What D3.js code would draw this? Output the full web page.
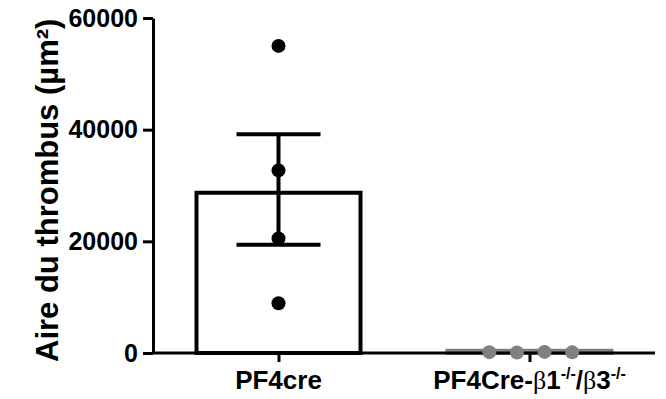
<!DOCTYPE html>
<html>
<head>
<meta charset="utf-8">
<script src="https://cdn.jsdelivr.net/npm/d3@7"></script>
<style>
  html, body { margin: 0; padding: 0; background: #fff; }
  svg { display: block; }
</style>
</head>
<body>
<script>
// groups, bar heights and error limits
const groups = ["PF4cre", "PF4Cre-b"];
const barMeans = [28700, 400];
const errLow = [19400, 400];
const errHigh = [39200, 400];
const groupColors = ["#000000", "#808080"];

// individual points per group
const pointsWT = [55000, 32700, 20500, 8900];
const pointsKO = [150, 100, 200, 120];
const koOffsets = [-0.16, -0.05, 0.06, 0.17];

const yTicks = [0, 20000, 40000, 60000];

const width = 666,
  height = 399;
const margin = { left: 153, right: 11, top: 18, bottom: 46 };

const svg = d3
  .select("body")
  .append("svg")
  .attr("width", width)
  .attr("height", height);

const x = d3
  .scalePoint()
  .domain(groups)
  .range([margin.left, width - margin.right])
  .padding(0.5);

const y = d3
  .scaleLinear()
  .domain([0, 60000])
  .range([height - margin.bottom, margin.top]);

const step = x.step();
const barWidth = 164;

// bars (outline only)
svg
  .selectAll(".bar")
  .data(groups)
  .enter()
  .append("rect")
  .attr("class", "bar")
  .attr("x", d => x(d) - barWidth / 2)
  .attr("width", barWidth)
  .attr("y", (d, i) => y(barMeans[i]))
  .attr("height", (d, i) => y(0) - y(barMeans[i]))
  .style("fill", "#fff")
  .style("stroke", (d, i) => groupColors[i])
  .style("stroke-width", 4);

// error bars (only the first group shows one)
const capHalf = 42;
const err = svg
  .selectAll(".err")
  .data(groups.slice(0, 1))
  .enter()
  .append("g")
  .attr("class", "err")
  .style("stroke", "#000")
  .style("stroke-width", 4);

err
  .append("line")
  .attr("x1", d => x(d))
  .attr("x2", d => x(d))
  .attr("y1", (d, i) => y(errLow[i]))
  .attr("y2", (d, i) => y(errHigh[i]));

err
  .append("line")
  .attr("x1", d => x(d) - capHalf)
  .attr("x2", d => x(d) + capHalf)
  .attr("y1", (d, i) => y(errHigh[i]))
  .attr("y2", (d, i) => y(errHigh[i]));

err
  .append("line")
  .attr("x1", d => x(d) - capHalf)
  .attr("x2", d => x(d) + capHalf)
  .attr("y1", (d, i) => y(errLow[i]))
  .attr("y2", (d, i) => y(errLow[i]));

// axes
const yAxis = svg
  .append("g")
  .attr("transform", `translate(${margin.left},0)`)
  .call(
    d3
      .axisLeft(y)
      .tickValues(yTicks)
      .tickFormat(d3.format("d"))
      .tickSize(10)
      .tickSizeOuter(0)
      .tickPadding(5)
  );

yAxis.selectAll("path, line").style("stroke", "#000").style("stroke-width", 3);
yAxis
  .selectAll("text")
  .style("font-family", "'Liberation Sans', Arial, sans-serif")
  .style("font-weight", "bold")
  .style("font-size", "25px")
  .style("fill", "#000");

const xAxis = svg
  .append("g")
  .attr("transform", `translate(0,${y(0)})`)
  .call(d3.axisBottom(x).tickSize(9).tickSizeOuter(0).tickFormat(""));

xAxis.select(".domain").attr("d", `M${margin.left},0H${width - margin.right}`);
xAxis.selectAll("path, line").style("stroke", "#000").style("stroke-width", 3);

// points drawn after the axis so they sit on top of it
svg
  .selectAll(".ptWT")
  .data(pointsWT)
  .enter()
  .append("circle")
  .attr("class", "ptWT")
  .attr("cx", x(groups[0]))
  .attr("cy", d => y(d))
  .attr("r", 7)
  .style("fill", groupColors[0]);

svg
  .selectAll(".ptKO")
  .data(pointsKO)
  .enter()
  .append("circle")
  .attr("class", "ptKO")
  .attr("cx", (d, i) => x(groups[1]) + koOffsets[i] * step)
  .attr("cy", d => y(d))
  .attr("r", 7)
  .style("fill", groupColors[1]);

// x labels, second one with greek letter and superscripts
const labelFont = "'Liberation Sans', Arial, sans-serif";
const labelY = 389;

svg
  .append("text")
  .attr("x", x(groups[0]))
  .attr("y", labelY)
  .attr("text-anchor", "middle")
  .style("font-family", labelFont)
  .style("font-weight", "bold")
  .style("font-size", "26px")
  .text("PF4cre");

const lab2 = svg
  .append("text")
  .attr("x", x(groups[1]))
  .attr("y", labelY)
  .attr("text-anchor", "middle")
  .style("font-family", labelFont)
  .style("font-weight", "bold")
  .style("font-size", "26px");

const parts = [
  { t: "PF4Cre-" },
  { t: "β", greek: true },
  { t: "1" },
  { t: "-/-", sup: true },
  { t: "/" },
  { t: "β", greek: true },
  { t: "3" },
  { t: "-/-", sup: true }
];

parts.forEach((p, i) => {
  const ts = lab2.append("tspan").text(p.t);
  if (p.greek) {
    ts.style("font-family", "'Liberation Serif', 'DejaVu Serif', serif")
      .style("font-weight", "normal");
  }
  if (p.sup) {
    ts.attr("dy", -10).style("font-size", "16px");
  } else if (i > 0 && parts[i - 1].sup) {
    // back to the baseline after a superscript
    ts.attr("dy", 10);
  }
});

// y axis title
svg
  .append("text")
  .attr("transform", `translate(58,${y(0) + 9}) rotate(-90)`)
  .attr("text-anchor", "start")
  .style("font-family", labelFont)
  .style("font-weight", "bold")
  .style("font-size", "31px")
  .text("Aire du thrombus (µm²)");
</script>
</body>
</html>
